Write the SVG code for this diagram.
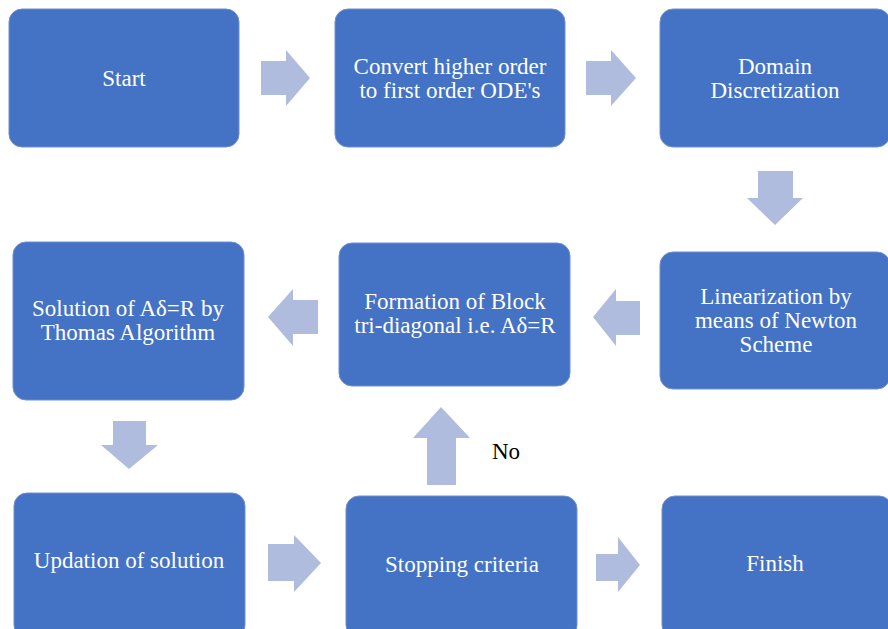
<svg xmlns="http://www.w3.org/2000/svg" width="888" height="629" viewBox="0 0 888 629">
<style>
.box{fill:#4472C4;stroke:#6F8FD0;stroke-width:1}
.t{font-family:'Liberation Serif','Times New Roman',serif;font-size:23px;fill:#FFFFFF;text-anchor:middle}
.lbl{font-family:'Liberation Serif','Times New Roman',serif;font-size:23px;fill:#000000}
.arr{fill:#AFBCDE}
</style>
<rect width="888" height="629" fill="#FFFFFF"/>
<g id="connectors">
<polygon class="arr" points="261,61 286,61 286,50 310,78 286,106 286,95 261,95"/>
<polygon class="arr" points="586,61 611,61 611,50 636,78 611,106 611,95 586,95"/>
<polygon class="arr" points="758,171 793,171 793,198 803,198 775,225 747,198 758,198"/>
<polygon class="arr" points="640,301 616,301 616,289 593,317 616,346 616,335 640,335"/>
<polygon class="arr" points="318,300 293,300 293,289 268,317 293,346 293,334 318,334"/>
<polygon class="arr" points="113,421 146,421 146,445 158,445 129,469 101,445 113,445"/>
<polygon class="arr" points="268,544 294,544 294,535 321,563 294,592 294,581 268,581"/>
<polygon class="arr" points="427,485 456,485 456,438 470,438 441,407 413,438 427,438"/>
<polygon class="arr" points="596,554 618,554 618,537 640,565 618,592 618,581 596,581"/>
</g>
<g id="n1"><rect class="box" x="9" y="9" width="230" height="138" rx="13"/><text class="t" x="124" y="86">Start</text></g>
<g id="n2"><rect class="box" x="335" y="9" width="230" height="138" rx="13"/><text class="t" x="450" y="74">Convert higher order</text><text class="t" x="450" y="98">to first order ODE's</text></g>
<g id="n3"><rect class="box" x="660" y="9" width="230" height="138" rx="13"/><text class="t" x="775" y="74">Domain</text><text class="t" x="775" y="98">Discretization</text></g>
<g id="n4"><rect class="box" x="660" y="252" width="230" height="137" rx="13"/><text class="t" x="776" y="304">Linearization by</text><text class="t" x="776" y="328">means of Newton</text><text class="t" x="776" y="352">Scheme</text></g>
<g id="n5"><rect class="box" x="339" y="243" width="231" height="143" rx="13"/><text class="t" x="455" y="309">Formation of Block</text><text class="t" x="455" y="333">tri-diagonal i.e. Aδ=R</text></g>
<g id="n6"><rect class="box" x="13" y="242" width="231" height="158" rx="13"/><text class="t" x="128" y="316">Solution of Aδ=R by</text><text class="t" x="128" y="340">Thomas Algorithm</text></g>
<g id="n7"><rect class="box" x="14" y="493" width="231" height="145" rx="13"/><text class="t" x="129" y="568">Updation of solution</text></g>
<g id="n8"><rect class="box" x="346" y="496" width="231" height="142" rx="13"/><text class="t" x="462" y="572">Stopping criteria</text></g>
<g id="n9"><rect class="box" x="662" y="496" width="230" height="142" rx="13"/><text class="t" x="775" y="571">Finish</text></g>
<text class="lbl" x="492" y="459">No</text>
</svg>
